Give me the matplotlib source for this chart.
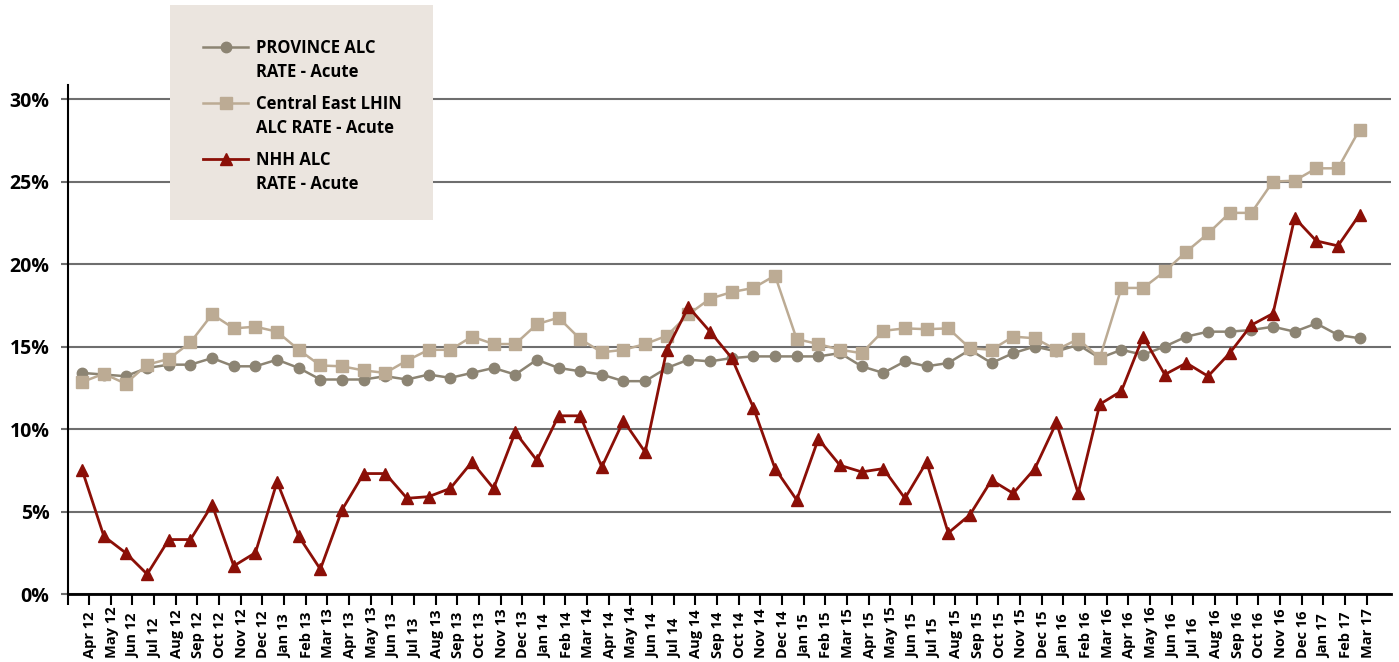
import matplotlib
matplotlib.use('Agg')
import matplotlib.pyplot as plt
import numpy as np
from matplotlib.legend_handler import HandlerLine2D
from matplotlib.patches import Rectangle
from matplotlib.transforms import blended_transform_factory

# ---------------- data ----------------
months = ['Apr 12', 'May 12', 'Jun 12', 'Jul 12', 'Aug 12', 'Sep 12', 'Oct 12', 'Nov 12', 'Dec 12',
          'Jan 13', 'Feb 13', 'Mar 13', 'Apr 13', 'May 13', 'Jun 13', 'Jul 13', 'Aug 13', 'Sep 13',
          'Oct 13', 'Nov 13', 'Dec 13', 'Jan 14', 'Feb 14', 'Mar 14', 'Apr 14', 'May 14', 'Jun 14',
          'Jul 14', 'Aug 14', 'Sep 14', 'Oct 14', 'Nov 14', 'Dec 14', 'Jan 15', 'Feb 15', 'Mar 15',
          'Apr 15', 'May 15', 'Jun 15', 'Jul 15', 'Aug 15', 'Sep 15', 'Oct 15', 'Nov 15', 'Dec 15',
          'Jan 16', 'Feb 16', 'Mar 16', 'Apr 16', 'May 16', 'Jun 16', 'Jul 16', 'Aug 16', 'Sep 16',
          'Oct 16', 'Nov 16', 'Dec 16', 'Jan 17', 'Feb 17', 'Mar 17']

province = [13.4, 13.3, 13.2, 13.7, 13.9, 13.9, 14.3, 13.8, 13.8, 14.2, 13.7, 13.0,
            13.0, 13.0, 13.2, 13.0, 13.3, 13.1, 13.4, 13.7, 13.3, 14.2, 13.7, 13.5,
            13.3, 12.9, 12.9, 13.7, 14.2, 14.1, 14.3, 14.4, 14.4, 14.4, 14.4, 14.6,
            13.8, 13.4, 14.1, 13.8, 14.0, 14.8, 14.0, 14.6, 15.0, 14.7, 15.1, 14.3,
            14.8, 14.5, 15.0, 15.6, 15.9, 15.9, 16.0, 16.2, 15.9, 16.4, 15.7, 15.5]

central_east = [12.85, 13.35, 12.75, 13.9, 14.25, 15.25, 16.95, 16.1, 16.2, 15.9, 14.8, 13.85,
                13.8, 13.55, 13.4, 14.15, 14.8, 14.8, 15.6, 15.15, 15.15, 16.35, 16.75, 15.45,
                14.65, 14.8, 15.15, 15.65, 16.95, 17.9, 18.3, 18.55, 19.3, 15.45, 15.15, 14.8,
                14.6, 15.95, 16.1, 16.05, 16.1, 14.9, 14.8, 15.6, 15.5, 14.8, 15.45, 14.3,
                18.55, 18.55, 19.55, 20.75, 21.85, 23.1, 23.1, 25.0, 25.05, 25.8, 25.8, 28.15]

nhh = [7.5, 3.5, 2.5, 1.2, 3.3, 3.3, 5.4, 1.7, 2.5, 6.8, 3.5, 1.5,
       5.1, 7.3, 7.3, 5.8, 5.9, 6.4, 8.0, 6.4, 9.8, 8.1, 10.8, 10.8,
       7.7, 10.5, 8.6, 14.8, 17.4, 15.9, 14.3, 11.3, 7.6, 5.7, 9.4, 7.8,
       7.4, 7.6, 5.8, 8.0, 3.7, 4.8, 6.9, 6.1, 7.6, 10.4, 6.1, 11.5,
       12.3, 15.6, 13.3, 14.0, 13.2, 14.6, 16.3, 17.0, 22.8, 21.4, 21.1, 23.0]

y_ticks = [0, 5, 10, 15, 20, 25, 30]
y_tick_labels = ['0%', '5%', '10%', '15%', '20%', '25%', '30%']
series_labels = ['PROVINCE ALC\nRATE - Acute',
                 'Central East LHIN\nALC RATE - Acute',
                 'NHH ALC\nRATE - Acute']

# ---------------- style ----------------
plt.rcParams['font.family'] = ['Open Sans', 'DejaVu Sans']
C_PROV = '#8c8473'
C_CE = '#bcab94'
C_NHH = '#8b0f07'
C_GRID = '#6e6e6e'

W, H = 1399, 662
fig = plt.figure(figsize=(W / 100, H / 100), dpi=100)
ax = fig.add_axes([67.5 / W, (H - 594) / H, (1391 - 67.5) / W, (594 - 85) / H])

x = np.arange(len(months)) + 0.68
l1, = ax.plot(x, province, color=C_PROV, lw=1.8, marker='o', ms=7.5, zorder=3)
l2, = ax.plot(x, central_east, color=C_CE, lw=1.8, marker='s', ms=9, zorder=4)
l3, = ax.plot(x, nhh, color=C_NHH, lw=2.0, marker='^', ms=9, zorder=5)

ax.set_xlim(0, 61.13)
ax.set_ylim(0, 30.85)

ax.set_yticks(y_ticks)
ax.set_yticklabels(y_tick_labels, fontsize=14, fontweight='bold')
ax.grid(axis='y', color=C_GRID, lw=1.5)
ax.set_axisbelow(True)
ax.tick_params(axis='y', length=5, width=1.5, color=C_GRID, pad=8)

ax.set_xticks([])
ax.set_xticks(np.arange(len(months) + 1), minor=True)
ax.tick_params(axis='x', which='minor', length=8, width=1.5, color='black', direction='out')

for s in ['top', 'right']:
    ax.spines[s].set_visible(False)
ax.spines['left'].set_linewidth(1.5)
ax.spines['bottom'].set_linewidth(2.0)

trans = blended_transform_factory(ax.transData, fig.transFigure)
for i, m in enumerate(months):
    ax.text(i + 1.05, 4 / H, m, rotation=90, ha='center', va='bottom', transform=trans,
            fontsize=10.5, fontweight='bold', clip_on=False)

# legend background box
fig.patches.append(Rectangle((170 / W, 1 - 220 / H), (433 - 170) / W, 215 / H,
                             transform=fig.transFigure, facecolor='#ebe5df',
                             edgecolor='none', zorder=1))


class TopHandler(HandlerLine2D):
    def __init__(self, shift, **kw):
        super().__init__(**kw)
        self.shift = shift

    def create_artists(self, legend, orig_handle, xdescent, ydescent, width, height,
                       fontsize, trans):
        arts = super().create_artists(legend, orig_handle, xdescent, ydescent, width,
                                      height, fontsize, trans)
        for a in arts:
            a.set_ydata(np.asarray(a.get_ydata(), float) + self.shift)
        return arts


hm = {l1: TopHandler(10), l2: TopHandler(10), l3: TopHandler(10)}
leg = fig.legend([l1, l2, l3], series_labels, loc='upper left',
                 bbox_to_anchor=(203 / W, 1 - 39 / H), bbox_transform=fig.transFigure,
                 frameon=False, borderpad=0, borderaxespad=0, handlelength=2.7,
                 handletextpad=0.45, labelspacing=0.85, handler_map=hm,
                 prop={'size': 12, 'weight': 'bold'})
leg.set_zorder(5)
for t in leg.get_texts():
    t.set_linespacing(1.42)

fig.savefig('out.png', dpi=100)
